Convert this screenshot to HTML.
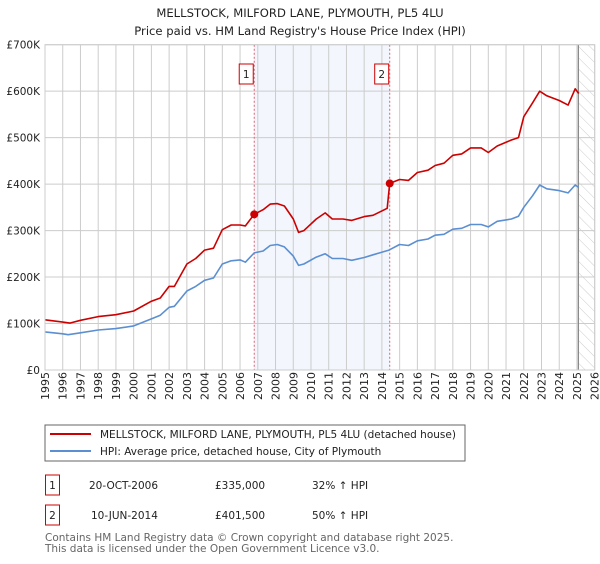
<!DOCTYPE html>
<html><head><meta charset="utf-8"><style>
body{margin:0;background:#fff;font-family:"DejaVu Sans","Liberation Sans",sans-serif;}
svg text{font-family:"DejaVu Sans","Liberation Sans",sans-serif;}
</style></head><body>
<svg id="c" width="600" height="560" xmlns="http://www.w3.org/2000/svg">
<defs><pattern id="hatch" width="8" height="8" patternUnits="userSpaceOnUse" patternTransform="rotate(-45)"><line x1="0" y1="0" x2="0" y2="8" stroke="#ccc" stroke-width="1"/></pattern></defs>
<text x="300" y="17" text-anchor="middle" font-size="11.6" fill="#222">MELLSTOCK, MILFORD LANE, PLYMOUTH, PL5 4LU</text>
<text x="300" y="35" text-anchor="middle" font-size="11.6" fill="#222">Price paid vs. HM Land Registry's House Price Index (HPI)</text>
<g id="plot"></g>
<rect x="45" y="425" width="420" height="36" fill="#fff" stroke="#666"/>
<line x1="50" y1="434" x2="91" y2="434" stroke="#cc0000" stroke-width="2"/>
<text x="100" y="438" font-size="10.5" fill="#222">MELLSTOCK, MILFORD LANE, PLYMOUTH, PL5 4LU (detached house)</text>
<line x1="50" y1="451" x2="91" y2="451" stroke="#5b8fd1" stroke-width="2"/>
<text x="100" y="455" font-size="10.5" fill="#222">HPI: Average price, detached house, City of Plymouth</text>
<g font-size="10.5" fill="#222">
<rect x="45.5" y="475" width="14" height="20" fill="none" stroke="#cc0000"/>
<text x="52.5" y="489" text-anchor="middle">1</text>
<text x="89" y="489">20-OCT-2006</text>
<text x="215" y="489">£335,000</text>
<text x="312" y="489">32% ↑ HPI</text>
<rect x="45.5" y="505" width="14" height="20" fill="none" stroke="#cc0000"/>
<text x="52.5" y="519" text-anchor="middle">2</text>
<text x="91" y="519">10-JUN-2014</text>
<text x="215" y="519">£401,500</text>
<text x="312" y="519">50% ↑ HPI</text>
</g>
<text x="45" y="541" font-size="10.5" fill="#666">Contains HM Land Registry data © Crown copyright and database right 2025.</text>
<text x="45" y="552" font-size="10.5" fill="#666">This data is licensed under the Open Government Licence v3.0.</text>
</svg>
<script>
const yTicks=[0,100000,200000,300000,400000,500000,600000,700000];
const yTickLabels=["£0","£100K","£200K","£300K","£400K","£500K","£600K","£700K"];
const xYears=[1995,1996,1997,1998,1999,2000,2001,2002,2003,2004,2005,2006,2007,2008,2009,2010,2011,2012,2013,2014,2015,2016,2017,2018,2019,2020,2021,2022,2023,2024,2025,2026];
const hpiT=[1995,1996,1996.3,1997,1998,1999,2000,2001,2001.5,2002,2002.3,2003,2003.5,2004,2004.5,2005,2005.5,2006,2006.3,2006.8,2007.3,2007.7,2008.1,2008.5,2009,2009.3,2009.6,2010.3,2010.8,2011.2,2011.8,2012.3,2013,2013.5,2014.4,2015,2015.5,2016,2016.6,2017,2017.5,2018,2018.5,2019,2019.6,2020,2020.5,2021.3,2021.7,2022,2022.5,2022.9,2023.3,2024,2024.5,2024.9,2025.1];
const hpiV=[82,78,76,80,86,89,95,110,118,135,137,170,180,193,198,228,235,237,232,252,256,268,270,265,245,225,228,243,250,240,240,236,242,248,258,270,268,278,282,290,292,303,305,313,313,308,320,325,331,350,375,398,390,386,381,398,393];
const propT=[1995,1996,1996.4,1997,1998,1999,2000,2001,2001.5,2002,2002.3,2003,2003.5,2004,2004.5,2005,2005.5,2006,2006.3,2006.8,2007.3,2007.7,2008.1,2008.5,2009,2009.3,2009.6,2010.3,2010.8,2011.2,2011.8,2012.3,2013,2013.5,2014.3,2014.44,2015,2015.5,2016,2016.6,2017,2017.5,2018,2018.5,2019,2019.6,2020,2020.5,2021.3,2021.7,2022,2022.5,2022.9,2023.3,2024,2024.5,2024.9,2025.1];
const propV=[108,103,101,107,115,119,127,148,155,180,180,228,240,258,262,302,312,312,310,335,345,357,358,353,325,296,300,325,338,325,325,322,330,333,348,401.5,410,408,425,430,440,445,462,465,478,478,468,482,495,500,545,575,600,590,580,570,605,595];
const saleT=[2006.8,2014.44];
const saleV=[335,401.5];
const saleLabels=["1","2"];
const L=45,R=594.7,T=44.7,B=370,X0=1995,X1=2026,YMAX=700000;
const xs=t=>L+(t-X0)/(X1-X0)*(R-L);
const ys=v=>B-v/YMAX*(B-T);
const ns="http://www.w3.org/2000/svg";
const g=document.getElementById('plot');
function mk(tag,at){const e=document.createElementNS(ns,tag);for(const k in at)e.setAttribute(k,at[k]);g.appendChild(e);return e;}
let e=mk('rect',{x:xs(saleT[0]),y:T,width:xs(saleT[1])-xs(saleT[0]),height:B-T,fill:'#eef2fc',opacity:0.7});


e=mk('rect',{x:xs(2025.08),y:T,width:R-xs(2025.08),height:B-T,fill:'url(#hatch)'});


xYears.forEach(y=>{const l=mk('line',{x1:xs(y),x2:xs(y),y1:T,y2:B,stroke:'#ccc','stroke-width':1});


const t=mk('text',{x:0,y:0,transform:`translate(${xs(y)+4},${B+30}) rotate(-90)`,'font-size':11,fill:'#222'});t.textContent=y;

});
yTicks.forEach((v,i)=>{const l=mk('line',{x1:L,x2:R,y1:ys(v),y2:ys(v),stroke:'#ccc','stroke-width':1});


const t=mk('text',{x:L-5,y:ys(v)+4,'text-anchor':'end','font-size':10.5,fill:'#222'});t.textContent=yTickLabels[i];

});
e=mk('line',{x1:xs(2025.08),x2:xs(2025.08),y1:T,y2:B,stroke:'#888','stroke-width':1.2});


saleT.forEach((t,i)=>{const l=mk('line',{x1:xs(t),x2:xs(t),y1:T,y2:B,stroke:'#e06070','stroke-width':1,'stroke-dasharray':'2,2'});


const r=mk('rect',{x:xs(t)-15,y:64,width:14,height:20,fill:'#fff',stroke:'#cc0000'});


const tx=mk('text',{x:xs(t)-8,y:78,'text-anchor':'middle','font-size':10.5,fill:'#222'});tx.textContent=saleLabels[i];

});
function line(T_,V_,col,name){const d=T_.map((t,i)=>(i?'L':'M')+xs(t).toFixed(1)+','+ys(V_[i]*1000).toFixed(1)).join('');
const p=mk('path',{d:d,fill:'none',stroke:col,'stroke-width':1.6,'stroke-linejoin':'round'});

}
line(hpiT,hpiV,'#5b8fd1','hpi-line');
line(propT,propV,'#cc0000','property-line');
saleT.forEach((t,i)=>{const c=mk('circle',{cx:xs(t),cy:ys(saleV[i]*1000),r:4,fill:'#cc0000'});

});
e=mk('rect',{x:L,y:T,width:R-L,height:B-T,fill:'none',stroke:'#ccc'});


</script>
</body></html>
